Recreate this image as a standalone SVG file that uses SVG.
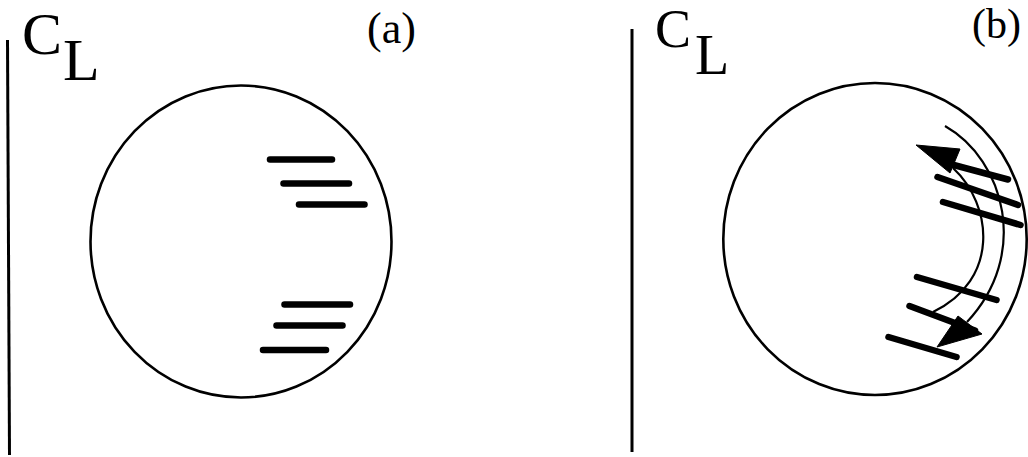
<svg xmlns="http://www.w3.org/2000/svg" width="1028" height="457" viewBox="0 0 1028 457">
  <style>
    .lbl { font-family: 'Liberation Serif', 'DejaVu Serif', serif; fill: #000; }
    .axis { stroke: #000; stroke-width: 3; fill: none; }
    .disk { stroke: #000; stroke-width: 2.6; fill: none; }
    .bar { stroke: #000; stroke-width: 6.5; stroke-linecap: round; fill: none; }
    .arc { stroke: #000; stroke-width: 2.2; fill: none; }
    .head { fill: #000; stroke: #000; stroke-width: 1; stroke-linejoin: round; }
  </style>
  <rect width="1028" height="457" fill="#fff"/>

  <g id="panel-a">
    <g id="axis-a">
      <line class="axis" x1="7.5" y1="40" x2="9.5" y2="455"/>
      <text class="lbl" x="22" y="54" font-size="60">C</text>
      <text class="lbl" x="63" y="80" font-size="60">L</text>
    </g>
    <text id="label-a" class="lbl" x="367" y="43" font-size="44">(a)</text>
    <g id="disk-a">
      <ellipse class="disk" cx="241" cy="241.5" rx="150.5" ry="156"/>
    </g>
    <g id="bars-a">
      <line class="bar" x1="270" y1="159.5" x2="332" y2="159.5"/>
      <line class="bar" x1="283.5" y1="183.5" x2="349" y2="183.5"/>
      <line class="bar" x1="299" y1="204.5" x2="364.5" y2="204.5"/>
      <line class="bar" x1="284.5" y1="304.5" x2="350" y2="304.5"/>
      <line class="bar" x1="276.5" y1="325.5" x2="342.5" y2="325.5"/>
      <line class="bar" x1="263" y1="350" x2="326" y2="350"/>
    </g>
  </g>

  <g id="panel-b">
    <g id="axis-b">
      <line class="axis" x1="632" y1="29" x2="632" y2="452"/>
      <text class="lbl" x="655" y="47" font-size="54">C</text>
      <text class="lbl" x="695" y="74" font-size="56">L</text>
    </g>
    <text id="label-b" class="lbl" x="972" y="38" font-size="42">(b)</text>
    <g id="disk-b">
      <ellipse class="disk" cx="875" cy="239" rx="151.7" ry="156"/>
    </g>
    <g id="bars-b">
      <line class="bar" x1="950" y1="164" x2="1008" y2="179.5"/>
      <line class="bar" x1="937.5" y1="177" x2="1018" y2="205"/>
      <line class="bar" x1="943" y1="202" x2="1020.5" y2="225"/>
      <line class="bar" x1="917" y1="277" x2="996.5" y2="300"/>
      <line class="bar" x1="909.5" y1="306" x2="975" y2="330.5"/>
      <line class="bar" x1="888.5" y1="337" x2="956.5" y2="357"/>
    </g>
  </g>

  <g id="connectors">
    <path class="arc" d="M945,126 C1005,160 1030,255 967,322"/>
    <path class="arc" d="M953,168 C993,205 1000,280 933,312"/>
    <polygon class="head" points="916,145 960,149 950,173"/>
    <polygon class="head" points="982,334 958,316 937,347"/>
  </g>
</svg>
